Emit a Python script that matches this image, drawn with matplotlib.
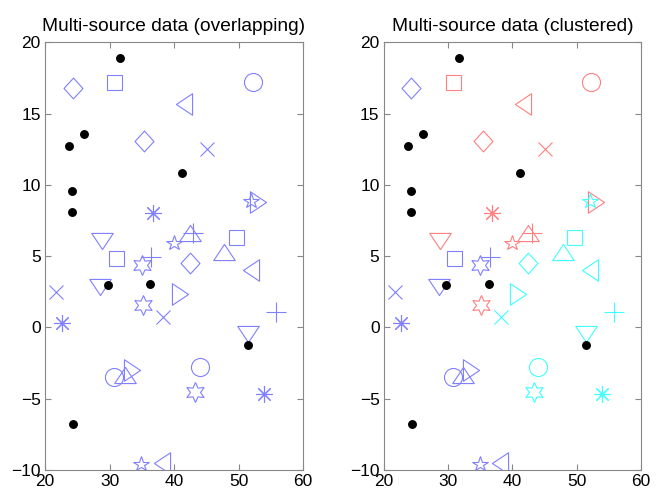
import numpy as np
import matplotlib.pyplot as plt
from matplotlib.path import Path

plt.rcParams['font.family'] = ['Liberation Sans', 'DejaVu Sans']

# marker order shared by all sources
kinds = ['s', 'o', '<', 'd', 'x', '>', 'ast', 'v', 'p', '^', '+', 'hex']

# source 1 (red)
x1 = [30.7, 52.2, 41.6, 35.4, 45.1, 53.0, 36.8, 28.8, 40.0, 42.4, 43.0, 35.2]
y1 = [17.2, 17.2, 15.7, 13.1, 12.5, 8.8, 8.0, 6.05, 5.95, 6.6, 6.6, 1.55]
# source 2 (blue)
x2 = [31.0, 30.7, 38.1, 24.3, 21.7, 33.5, 22.7, 28.6, 34.9, 32.4, 36.45, 35.0]
y2 = [4.9, -3.5, -9.5, 16.8, 2.5, -3.0, 0.3, 2.8, -9.6, -3.35, 4.95, 4.4]
# source 3 (cyan)
x3 = [49.6, 44.0, 52.0, 42.4, 38.3, 40.9, 54.0, 51.5, 52.0, 47.8, 55.8, 43.3]
y3 = [6.35, -2.75, 4.0, 4.5, 0.7, 2.35, -4.65, -0.45, 8.9, 5.3, 1.1, -4.55]

# black points
xb = [31.7, 26.1, 23.7, 41.2, 24.2, 24.2, 29.7, 36.3, 51.4, 24.4]
yb = [18.9, 13.55, 12.7, 10.8, 9.6, 8.1, 2.95, 3.05, -1.2, -6.75]

tri_up = Path([(0, 0.75), (-1, -0.75), (1, -0.75), (0, 0.75)], closed=True)
tri_dn = Path([(0, -0.75), (-1, 0.75), (1, 0.75), (0, -0.75)], closed=True)
tri_lf = Path([(-0.75, 0), (0.75, 1), (0.75, -1), (-0.75, 0)], closed=True)
tri_rt = Path([(0.75, 0), (-0.75, 1), (-0.75, -1), (0.75, 0)], closed=True)
diam = Path([(0, 1.1), (-1, 0), (0, -1.1), (1, 0), (0, 1.1)], closed=True)

style = {
    's': ('s', 10.8), 'o': ('o', 13), '<': (tri_lf, 15.5), '>': (tri_rt, 15.5),
    '^': (tri_up, 15.5), 'v': (tri_dn, 15.5), 'd': (diam, 15), 'x': ('x', 9.4),
    '+': ('+', 13.7), 'ast': ((8, 2, 0), 12.2), 'p': ('*', 11.4),
    'hex': ((6, 1, 0), 14.4),
}

blue = '#8080ff'
red = '#ff8080'
cyan = '#40ffff'


def draw(ax, xs, ys, col):
    for k, xv, yv in zip(kinds, xs, ys):
        m, ms = style[k]
        ax.plot(xv, yv, linestyle='none', marker=m, markersize=ms,
                markerfacecolor='none', markeredgecolor=col, markeredgewidth=0.8)


fig = plt.figure(figsize=(6.65, 4.98), dpi=100)
ax1 = fig.add_axes([0.0677, 0.0562, 0.388, 0.859])
ax2 = fig.add_axes([0.577, 0.0562, 0.387, 0.859])

sets = [(ax1, [blue, blue, blue], 'Multi-source data (overlapping)'),
        (ax2, [red, blue, cyan], 'Multi-source data (clustered)')]

for ax, cols, title in sets:
    draw(ax, x1, y1, cols[0])
    draw(ax, x2, y2, cols[1])
    draw(ax, x3, y3, cols[2])
    ax.plot(xb, yb, 'o', color='black', markersize=5.4)
    ax.set_xlim(20, 60)
    ax.set_ylim(-10, 20)
    ax.set_xticks([20, 30, 40, 50, 60])
    ax.set_yticks([-10, -5, 0, 5, 10, 15, 20])
    ax.tick_params(direction='in', length=4, top=True, right=True,
                   color='#888888', labelsize=12.5, labelcolor='black', pad=3)
    for sp in ax.spines.values():
        sp.set_color('#888888')
        sp.set_linewidth(0.8)
    ax.set_title(title, fontsize=13.8, pad=8)

fig.savefig('out.png', dpi=100)
